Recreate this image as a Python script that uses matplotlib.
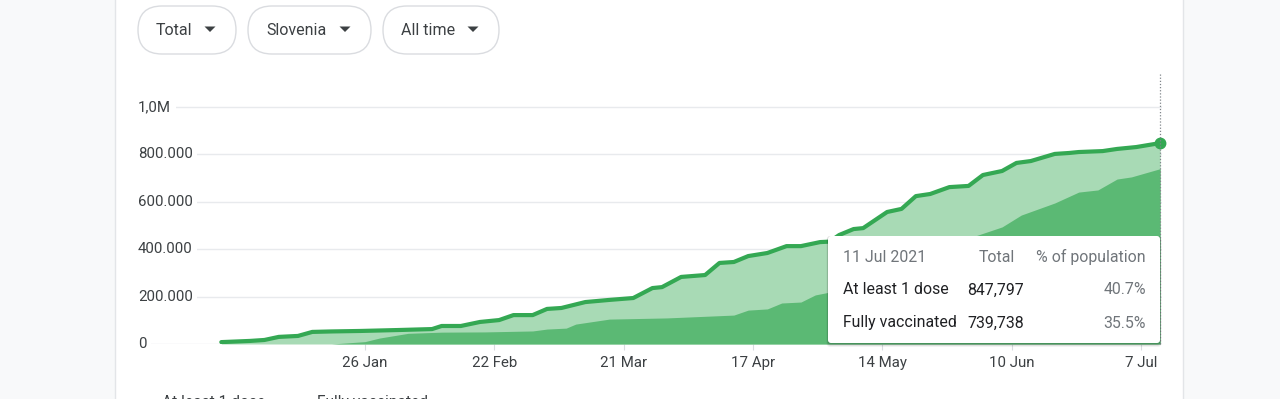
import numpy as np
import matplotlib

matplotlib.use("Agg")
import matplotlib.pyplot as plt
import matplotlib.dates as mdates
from matplotlib.patches import FancyBboxPatch, Rectangle, Polygon

plt.rcParams["font.family"] = ["Roboto", "DejaVu Sans"]

W, H = 1280, 399

# cumulative people with at least one dose
dose1_dates = [
    "2020-12-27", "2021-01-02", "2021-01-05", "2021-01-08", "2021-01-12",
    "2021-01-15", "2021-01-19", "2021-01-25", "2021-02-02", "2021-02-09",
    "2021-02-11", "2021-02-15", "2021-02-19", "2021-02-23", "2021-02-26",
    "2021-03-02", "2021-03-05", "2021-03-08", "2021-03-13", "2021-03-18",
    "2021-03-23", "2021-03-27", "2021-03-29", "2021-04-02", "2021-04-07",
    "2021-04-10", "2021-04-13", "2021-04-16", "2021-04-20", "2021-04-24",
    "2021-04-27", "2021-05-01", "2021-05-03", "2021-05-05", "2021-05-08",
    "2021-05-10", "2021-05-15", "2021-05-18", "2021-05-21", "2021-05-24",
    "2021-05-28", "2021-06-01", "2021-06-04", "2021-06-08", "2021-06-11",
    "2021-06-14", "2021-06-19", "2021-06-22", "2021-06-24", "2021-06-29",
    "2021-07-02", "2021-07-06", "2021-07-11",
]
dose1_values = [
    8000, 13000, 17000, 30000, 34000,
    51000, 53000, 55000, 59000, 63000,
    76000, 76000, 93000, 101000, 122000,
    122000, 148000, 152000, 177000, 186000,
    194000, 236000, 240000, 283000, 291000,
    342000, 346000, 371000, 384000, 413000,
    413000, 430000, 432000, 460000, 485000,
    489000, 557000, 570000, 624000, 633000,
    662000, 667000, 713000, 730000, 764000,
    772000, 802000, 806000, 810000, 814000,
    823000, 831000, 847797,
]

# cumulative fully vaccinated
full_dates = [
    "2021-01-19", "2021-01-26", "2021-01-29", "2021-02-04", "2021-02-11",
    "2021-02-20", "2021-03-02", "2021-03-05", "2021-03-09", "2021-03-11",
    "2021-03-18", "2021-03-30", "2021-04-13", "2021-04-16", "2021-04-20",
    "2021-04-23", "2021-04-27", "2021-04-30", "2021-05-03", "2021-05-11",
    "2021-05-18", "2021-05-26", "2021-05-31", "2021-06-03", "2021-06-08",
    "2021-06-12", "2021-06-19", "2021-06-24", "2021-06-28", "2021-07-02",
    "2021-07-05", "2021-07-11",
]
full_values = [
    0, 10000, 25000, 45000, 50000,
    51000, 55000, 63000, 67000, 84000,
    105000, 110000, 122000, 143000, 148000,
    173000, 177000, 207000, 219000, 290000,
    350000, 410000, 440000, 460000, 494000,
    544000, 595000, 641000, 650000, 696000,
    705000, 739738,
]

y_ticks = [0, 200000, 400000, 600000, 800000, 1000000]
y_tick_labels = ["0", "200.000", "400.000", "600.000", "800.000", "1,0M"]
x_tick_dates = ["2021-01-26", "2021-02-22", "2021-03-21", "2021-04-17",
                "2021-05-14", "2021-06-10", "2021-07-07"]
x_tick_labels = ["26 Jan", "22 Feb", "21 Mar", "17 Apr", "14 May", "10 Jun", "7 Jul"]

chip_labels = ["Total", "Slovenia", "All time"]
legend_labels = ["At least 1 dose", "Fully vaccinated"]
tooltip_title = "11 Jul 2021"
tooltip_header = ["Total", "% of population"]
tooltip_names = ["At least 1 dose", "Fully vaccinated"]
tooltip_totals = ["847,797", "739,738"]
tooltip_shares = ["40.7%", "35.5%"]

LINE = "#34a853"
LIGHT = "#a8dab5"
DARK = "#5bb974"
TEXT = "#3c4043"
MUTED = "#70757a"
GRID = "#e8eaed"
PAGE = "#f8f9fa"

fig = plt.figure(figsize=(W / 100, H / 100), dpi=100)
fig.patch.set_facecolor(PAGE)

# white card behind everything, thin borders on the sides only
fig.patches.append(Rectangle((115 / W, 0), (1183 - 115) / W, 1,
                             transform=fig.transFigure, facecolor="white",
                             edgecolor="none", zorder=-5))
for xb in (115, 1183):
    fig.lines.append(plt.Line2D([xb / W, xb / W], [0, 1], transform=fig.transFigure,
                                color="#e3e5e8", lw=1, zorder=-4))

# main chart: x pixels 138..1162, y pixels 344 (zero) .. 73 (top)
ax = fig.add_axes([138 / W, (H - 344) / H, (1162 - 138) / W, (344 - 73) / H])
ax.set_facecolor("none")
ax.set_axisbelow(True)
for s in ax.spines.values():
    s.set_visible(False)

d1 = np.array(dose1_dates, dtype="datetime64[D]")
v1 = np.array(dose1_values)
d2 = np.array(full_dates, dtype="datetime64[D]")
v2 = np.array(full_values)

ax.fill_between(d1, 0, v1, color=LIGHT, lw=0, zorder=2)
ax.fill_between(d2, 0, v2, color=DARK, lw=0, zorder=3)
ax.plot(d1, v1, color=LINE, lw=3.0, solid_joinstyle="round",
        solid_capstyle="round", zorder=4)
ax.plot(d1[-1:], v1[-1:], "o", color=LINE, ms=7.5, clip_on=False, zorder=5)
ax.axvline(d1[-1], color="#80868b", lw=0.9, ls=(0, (1, 1.5)), zorder=6, clip_on=False)

px_per_day = (1141 - 365) / 162.0
anchor = mdates.date2num(np.datetime64("2021-01-26"))
ax.set_xlim(anchor - (365 - 138) / px_per_day, anchor + (1162 - 365) / px_per_day)
ax.set_ylim(0, (344 - 73) / 237.0 * 1e6)

ax.set_yticks(y_ticks)
ax.tick_params(axis="y", length=0, labelleft=False)
ax.grid(axis="y", color=GRID, lw=1)
for v, lab in zip(y_ticks, y_tick_labels):
    ax.text(0, v, lab, transform=ax.get_yaxis_transform(), ha="left", va="center",
            fontsize=10.8, color=TEXT, zorder=1,
            bbox=dict(facecolor="white", edgecolor="none", pad=3.2))

ax.set_xticks(np.array(x_tick_dates, dtype="datetime64[D]"))
ax.set_xticklabels(x_tick_labels)
ax.tick_params(axis="x", length=4.5, width=0.8, color="#dadce0",
               labelsize=10.8, labelcolor=TEXT, pad=4)

# overlay in pixel units for the interface parts
ui = fig.add_axes([0, 0, 1, 1], zorder=3)
ui.set_xlim(0, W)
ui.set_ylim(H, 0)
ui.axis("off")
ui.set_facecolor("none")

chip_boxes = [(138, 236), (248, 371), (383, 499)]
for (x0, x1), lab in zip(chip_boxes, chip_labels):
    ui.add_patch(FancyBboxPatch((x0, 6), x1 - x0, 48,
                                boxstyle="round,pad=0,rounding_size=24",
                                facecolor="white", edgecolor="#dadce0", lw=1))
    ui.text(x0 + 18, 30.5, lab, fontsize=11.5, color=TEXT, ha="left", va="center")
    ax_tri = x1 - 26
    ui.add_patch(Polygon([(ax_tri - 5.5, 26.5), (ax_tri + 5.5, 26.5), (ax_tri, 32)],
                         closed=True, facecolor=TEXT, edgecolor="none"))

# tooltip
for off, a in [(3, 0.05), (2, 0.07), (1, 0.09)]:
    ui.add_patch(FancyBboxPatch((828 - off * 0.5, 236), 332 + off, 108 + off,
                                boxstyle="round,pad=0,rounding_size=4",
                                facecolor="black", edgecolor="none", alpha=a))
ui.add_patch(FancyBboxPatch((828, 236), 332, 107,
                            boxstyle="round,pad=0,rounding_size=3",
                            facecolor="white", edgecolor="none"))
ui.text(843, 257, tooltip_title, fontsize=11.4, color=MUTED, va="center")
ui.text(979, 257, tooltip_header[0], fontsize=11.4, color=MUTED, va="center")
ui.text(1146, 257, tooltip_header[1], fontsize=11.4, color=MUTED, va="center", ha="right")
for i, (nm, tot, sh) in enumerate(zip(tooltip_names, tooltip_totals, tooltip_shares)):
    yy = 290 + i * 33
    ui.text(843, yy, nm, fontsize=11.4, color="#202124", va="center")
    ui.text(967, yy, tot, fontsize=11.4, color="#202124", va="center")
    ui.text(1146, yy, sh, fontsize=11.4, color=MUTED, va="center", ha="right")

# legend below, mostly cut off by the screenshot edge as in the source
for x0, lab in zip([162, 317], legend_labels):
    ui.text(x0, 395, lab, fontsize=11.2, color=TEXT, va="top", ha="left")

fig.savefig("out.png", dpi=100, facecolor=fig.get_facecolor())
